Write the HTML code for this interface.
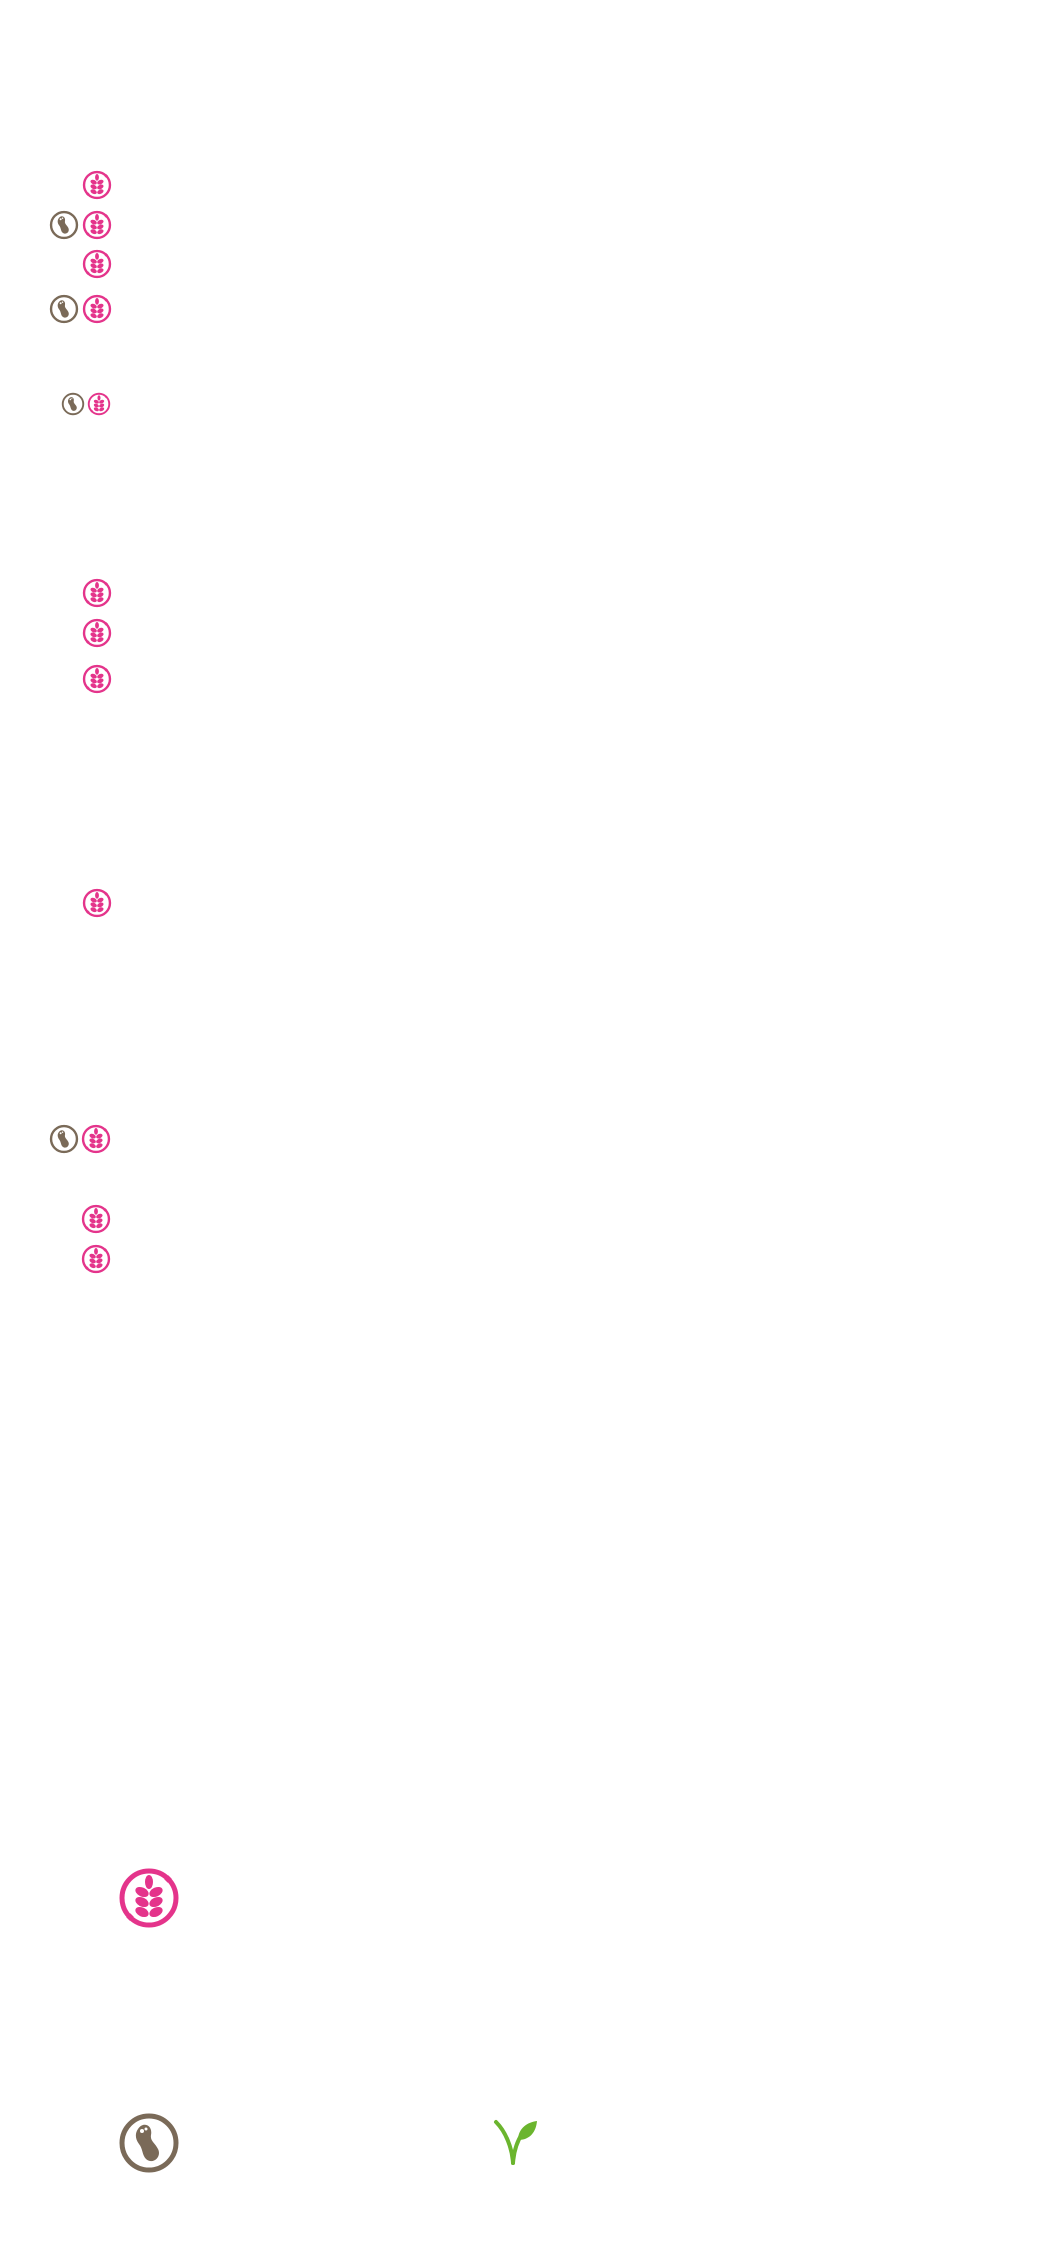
<!DOCTYPE html>
<html><head><meta charset="utf-8"><style>html,body{margin:0;padding:0;background:#fff;width:1050px;height:2247px;overflow:hidden}</style></head>
<body>
<svg width="1050" height="2247" viewBox="0 0 1050 2247" xmlns="http://www.w3.org/2000/svg">
<defs>
<g id="gl">
<circle r="27" fill="none" stroke="#e4348b" stroke-width="5"/>
<line x1="17" y1="-17" x2="21" y2="-21" stroke="#e4348b" stroke-width="5"/>
<line x1="-17" y1="17" x2="-21" y2="21" stroke="#e4348b" stroke-width="5"/>
<g fill="#e4348b">
<ellipse cx="0" cy="-16" rx="4" ry="7"/>
<ellipse cx="-7" cy="-6" rx="7" ry="4.5" transform="rotate(25 -7 -6)"/>
<ellipse cx="7" cy="-6" rx="7" ry="4.5" transform="rotate(-25 7 -6)"/>
<ellipse cx="-7" cy="4" rx="7" ry="4.5" transform="rotate(25 -7 4)"/>
<ellipse cx="7" cy="4" rx="7" ry="4.5" transform="rotate(-25 7 4)"/>
<ellipse cx="-7" cy="14" rx="7" ry="4.5" transform="rotate(25 -7 14)"/>
<ellipse cx="7" cy="14" rx="7" ry="4.5" transform="rotate(-25 7 14)"/>
</g>
</g>
<g id="pn">
<circle r="27" fill="none" stroke="#7a6a58" stroke-width="5"/>
<path d="M-11,-14 C-6,-22 4,-18 2,-8 C1,-2 6,0 9,6 C13,14 4,22 -3,16 C-7,12 -6,6 -10,1 C-14,-4 -14,-10 -11,-14Z" fill="#7a6a58"/>
<circle cx="-7" cy="-12" r="2" fill="#fff"/><circle cx="-3" cy="-14" r="1.5" fill="#fff"/>
</g>
</defs>
<g transform="translate(97,185) scale(0.48)"><use href="#gl"/></g>
<g transform="translate(64,225) scale(0.48)"><use href="#pn"/></g>
<g transform="translate(97,225) scale(0.48)"><use href="#gl"/></g>
<g transform="translate(97,264) scale(0.48)"><use href="#gl"/></g>
<g transform="translate(64,309) scale(0.48)"><use href="#pn"/></g>
<g transform="translate(97,309) scale(0.48)"><use href="#gl"/></g>
<g transform="translate(73,404) scale(0.38)"><use href="#pn"/></g>
<g transform="translate(99,404) scale(0.38)"><use href="#gl"/></g>
<g transform="translate(97,593) scale(0.48)"><use href="#gl"/></g>
<g transform="translate(97,633) scale(0.48)"><use href="#gl"/></g>
<g transform="translate(97,679) scale(0.48)"><use href="#gl"/></g>
<g transform="translate(97,903) scale(0.48)"><use href="#gl"/></g>
<g transform="translate(64,1139) scale(0.48)"><use href="#pn"/></g>
<g transform="translate(96,1139) scale(0.48)"><use href="#gl"/></g>
<g transform="translate(96,1219) scale(0.48)"><use href="#gl"/></g>
<g transform="translate(96,1259) scale(0.48)"><use href="#gl"/></g>
<g transform="translate(149,1898) scale(1.0)"><use href="#gl"/></g>
<g transform="translate(149,2143) scale(1.0)"><use href="#pn"/></g>
<g fill="none" stroke="#6bb52e" stroke-width="4" stroke-linecap="round">
<path d="M496,2122 C506,2132 512,2148 513,2163"/>
<path d="M513,2163 C514,2150 518,2140 522,2134"/>
</g>
<path d="M518,2140 C518,2128 528,2122 537,2121 C536,2132 530,2140 518,2140Z" fill="#6bb52e"/>
</svg>
</body></html>
